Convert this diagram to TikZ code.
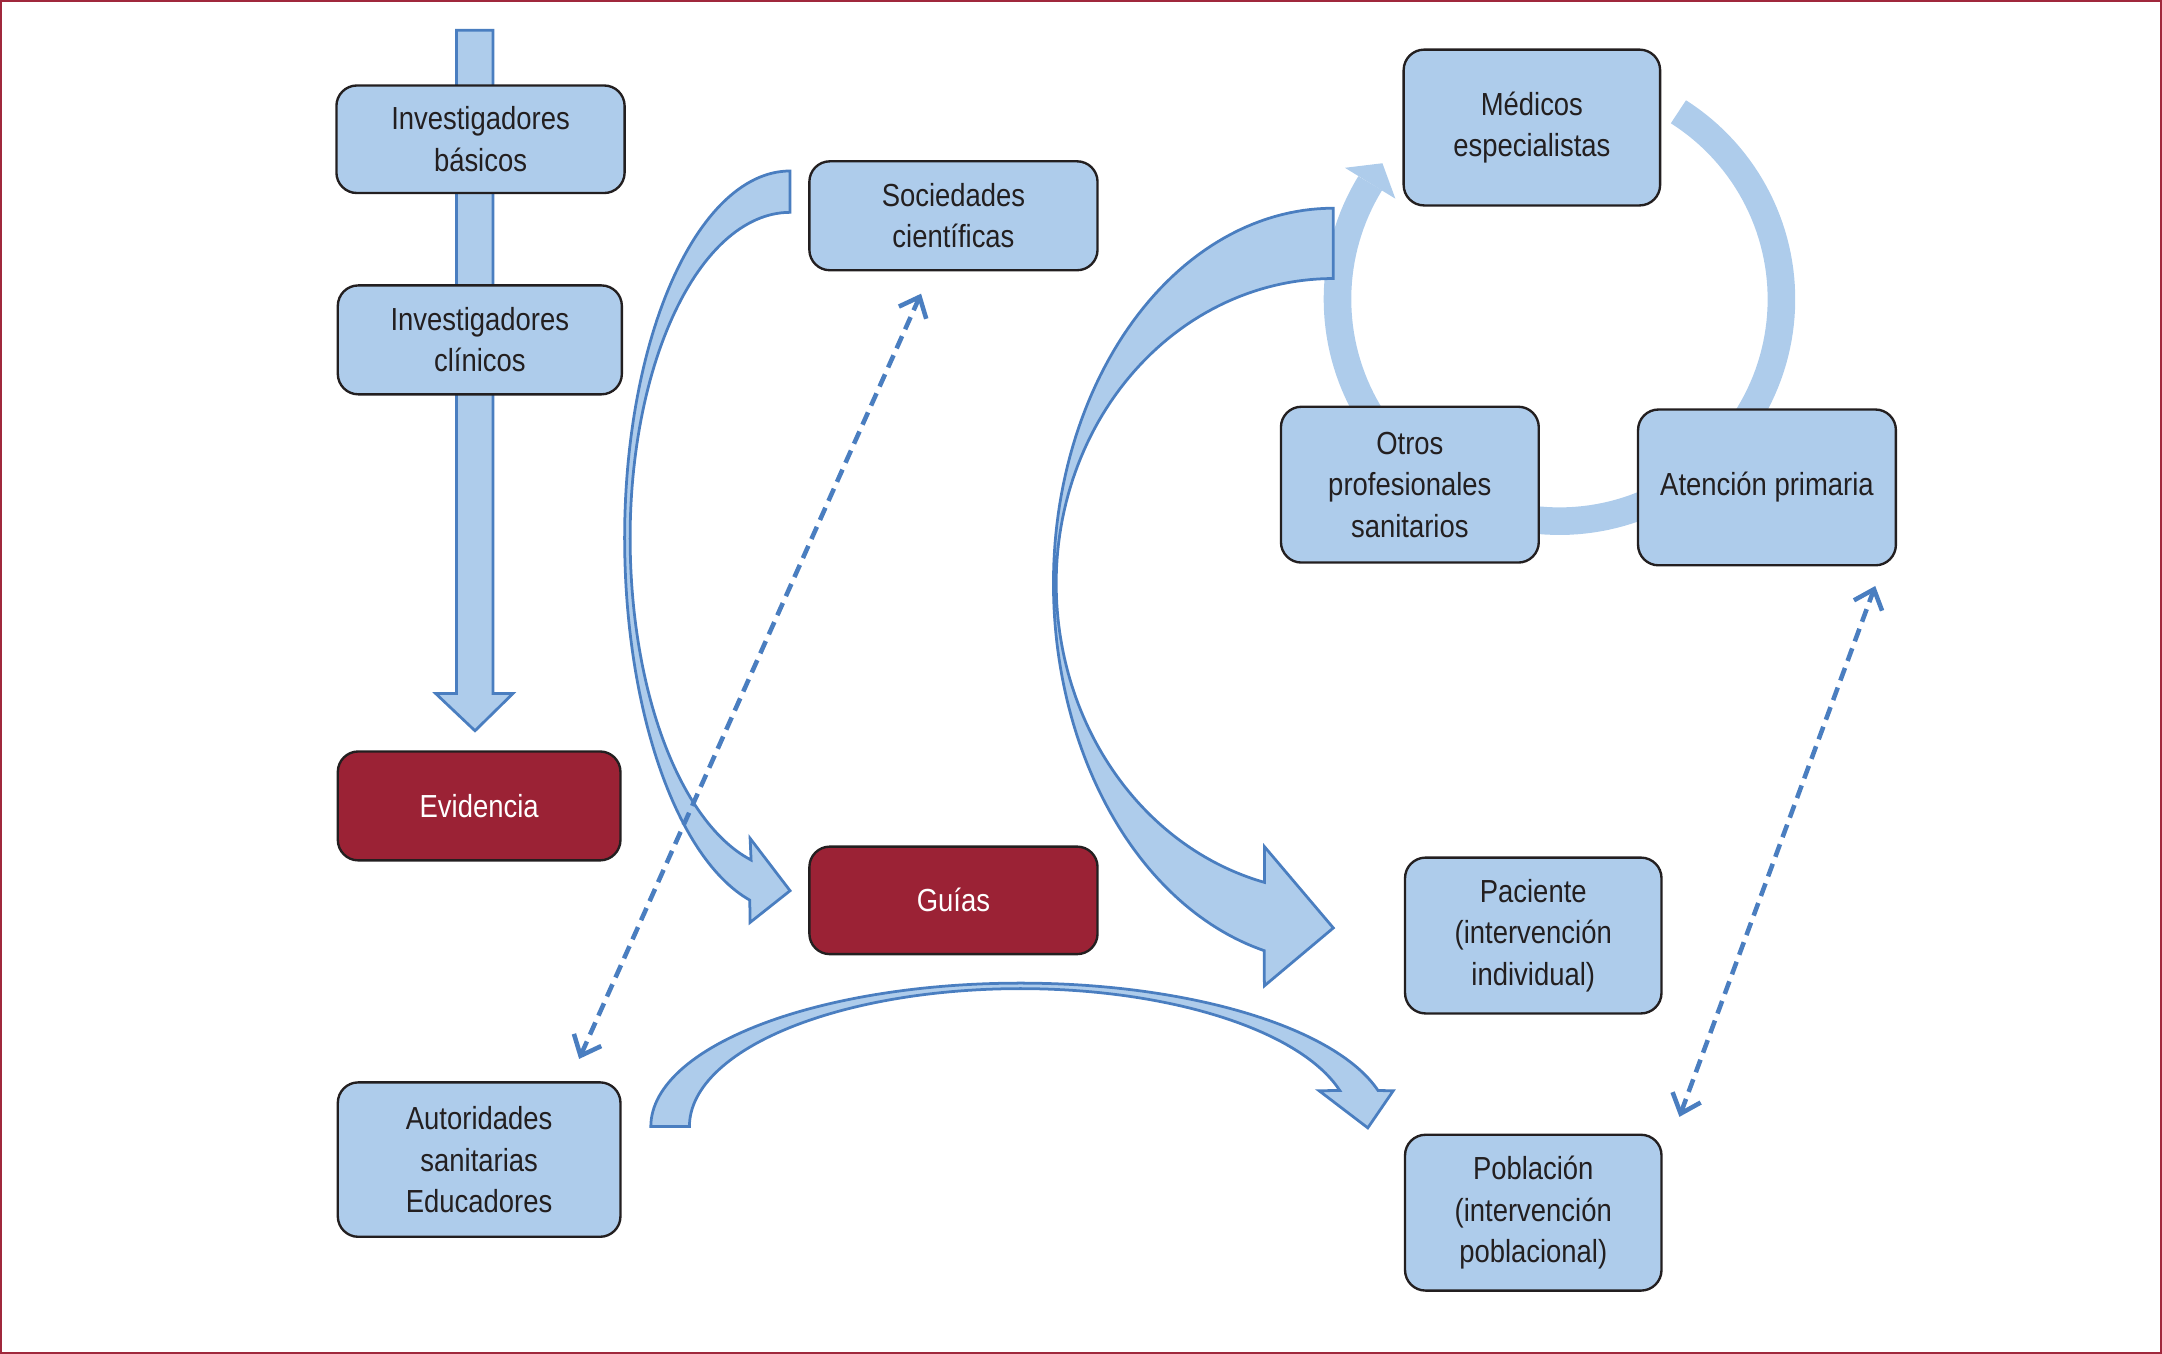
\documentclass[tikz,border=0pt]{standalone}
\usepackage{fontspec}
\setmainfont[FakeStretch=0.86]{Liberation Sans}
\usetikzlibrary{arrows.meta}
\definecolor{lb}{RGB}{174,204,235}
\definecolor{sb}{RGB}{74,126,192}
\definecolor{dred}{RGB}{155,34,53}
\definecolor{frame}{RGB}{160,40,60}
\definecolor{nline}{RGB}{35,31,32}
\tikzset{
  box/.style={draw=nline, line width=0.6pt, fill=lb, rounded corners=5.2pt,
    align=center, inner sep=0pt, outer sep=0pt, text=nline,
    font=\fontsize{8.1}{10.5}\selectfont},
  redbox/.style={box, fill=dred, text=white},
  blockarrow/.style={draw=sb, fill=lb, line width=0.7pt, line join=miter},
  ringarc/.style={draw=lb, line width=7pt},
  dashlink/.style={draw=sb, line width=1.15pt, dash pattern=on 3.4pt off 1.9pt,
    {Straight Barb[length=4.4pt,width=7.6pt,line width=1.15pt]}-{Straight Barb[length=4.4pt,width=7.6pt,line width=1.15pt]}}
}
\begin{document}
\begin{tikzpicture}[x=0.35pt,y=-0.35pt]
\useasboundingbox (0,0) rectangle (1568,982);
\draw[frame, line width=0.6pt] (0.9,0.9) rectangle (1567.1,981.1);

% vertical block arrow
\draw[blockarrow] (331,22) -- (357.5,22) -- (357.5,503) -- (372,503) -- (344.5,530)
  -- (316,503) -- (331,503) -- cycle;

% cycle ring
\draw[ringarc] plot[domain=57.6:-211.5, samples=140] ({1131+161*cos(\x)},{217-161*sin(\x)});
\fill[lb] (975.4,121.7) -- (1002.6,118.4) -- (1012,144.1) -- cycle;

% curved arrow: Sociedades -> Guias
\draw[blockarrow] (573,124)
  -- plot[domain=-90:-180, samples=60] ({573+120*cos(\x)},{390+266*sin(\x)})
  -- plot[domain=180:104.1, samples=60] ({573+120*cos(\x)},{390+271*sin(\x)})
  -- (544,669) -- (573,646) -- (544,608)
  -- plot[domain=104.1:180, samples=60] ({573+116*cos(\x)},{390+241*sin(\x)})
  -- plot[domain=180:270, samples=60] ({573+116*cos(\x)},{390+236*sin(\x)})
  -- cycle;

% big curved arrow -> Paciente
\draw[blockarrow] (967,151)
  -- plot[domain=-90:-180, samples=60] ({967+203*cos(\x)},{423+272*sin(\x)})
  -- plot[domain=180:104.3, samples=60] ({967+203*cos(\x)},{423+275*sin(\x)})
  -- (917,715) -- (967,673) -- (917,614)
  -- plot[domain=104.4:180, samples=60] ({967+201*cos(\x)},{423+224*sin(\x)})
  -- plot[domain=180:270, samples=60] ({967+201*cos(\x)},{423+221*sin(\x)})
  -- cycle;

% bottom curved arrow -> Poblacion
\draw[blockarrow] (472,817)
  -- plot[domain=180:270, samples=60] ({740+268*cos(\x)},{817+104*sin(\x)})
  -- plot[domain=270:345.5, samples=60] ({740+268*cos(\x)},{817+104*sin(\x)})
  -- (1010.5,791) -- (992,818) -- (956.6,791)
  -- plot[domain=344.9:270, samples=60] ({740+240*cos(\x)},{817+100*sin(\x)})
  -- plot[domain=270:180, samples=60] ({740+240*cos(\x)},{817+100*sin(\x)})
  -- cycle;

% nodes
\node[box, minimum width=209*0.35pt, minimum height=78*0.35pt] (ib) at (348.5,101) {Investigadores\\básicos};
\node[box, minimum width=206*0.35pt, minimum height=79*0.35pt] (ic) at (348,246.5) {Investigadores\\clínicos};
\node[redbox, minimum width=205*0.35pt, minimum height=79*0.35pt] (ev) at (347.5,584.5) {Evidencia};
\node[box, minimum width=205*0.35pt, minimum height=112*0.35pt] (au) at (347.5,841) {Autoridades\\sanitarias\\Educadores};
\node[box, minimum width=209*0.35pt, minimum height=79*0.35pt] (so) at (691.5,156.5) {Sociedades\\científicas};
\node[redbox, minimum width=209*0.35pt, minimum height=78*0.35pt] (gu) at (691.5,653) {Guías};
\node[box, minimum width=186*0.35pt, minimum height=113*0.35pt] (me) at (1111,92.5) {Médicos\\especialistas};
\node[box, minimum width=187*0.35pt, minimum height=113*0.35pt] (ot) at (1022.5,351.5) {Otros\\profesionales\\sanitarios};
\node[box, minimum width=187*0.35pt, minimum height=113*0.35pt] (ap) at (1281.5,353.5) {Atención primaria};
\node[box, minimum width=186*0.35pt, minimum height=113*0.35pt] (pa) at (1112,678.5) {Paciente\\(intervención\\individual)};
\node[box, minimum width=186*0.35pt, minimum height=113*0.35pt] (po) at (1112,879.5) {Población\\(intervención\\poblacional)};

% dashed double links
\coordinate (d1a) at (420,768);
\coordinate (d1b) at (668,213);
\coordinate (d2a) at (1218,810);
\coordinate (d2b) at (1360,425);
\draw[dashlink] (d1a) -- (d1b);
\draw[dashlink] (d2a) -- (d2b);
\end{tikzpicture}
\end{document}
